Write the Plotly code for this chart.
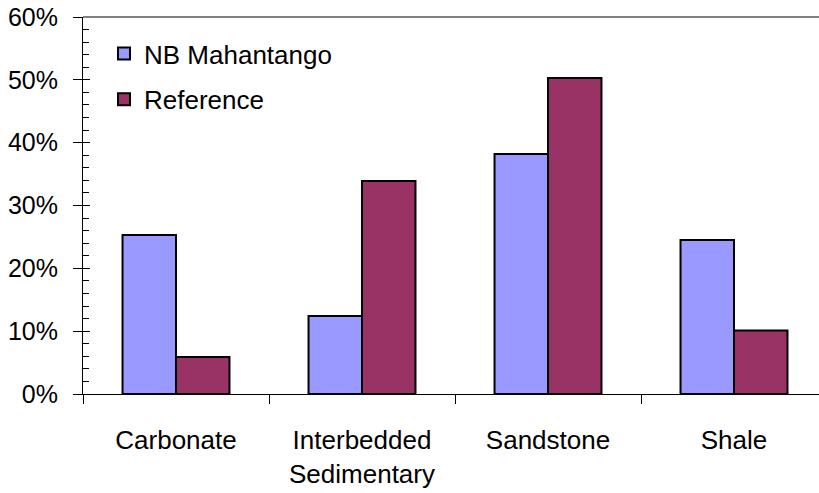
import plotly.graph_objects as go

categories = ["Carbonate", "Interbedded<br>Sedimentary", "Sandstone", "Shale"]
nb_mahantango = [0.253, 0.124, 0.382, 0.245]
reference = [0.059, 0.339, 0.503, 0.101]
series_names = ["NB Mahantango", "Reference"]
y_ticks = [0.0, 0.1, 0.2, 0.3, 0.4, 0.5, 0.6]

FONT = "Liberation Sans, Arial, sans-serif"
fs = 26

fig = go.Figure()
fig.add_trace(go.Bar(x=categories, y=nb_mahantango, name=series_names[0],
                     marker=dict(color="#9999FF", line=dict(color="black", width=2)),
                     legendgroup="a"))
fig.add_trace(go.Bar(x=categories, y=reference, name=series_names[1],
                     marker=dict(color="#993366", line=dict(color="black", width=2)),
                     legendgroup="b"))
# invisible trace to hold the inner tick axis
fig.add_trace(go.Scatter(x=[categories[0]], y=[0], yaxis="y2", mode="markers",
                         marker=dict(opacity=0), showlegend=False, hoverinfo="skip"))

W, H = 819, 493
L, T, B = 83, 17, 99
plot_w = W - L
plot_h = H - T - B
cat_w = 186
x_max = -0.5 + plot_w / cat_w

fig.update_layout(
    width=W, height=H,
    margin=dict(l=L, r=0, t=T, b=B, pad=0, autoexpand=False),
    paper_bgcolor="white", plot_bgcolor="white",
    font=dict(family=FONT, size=fs, color="black"),
    barmode="group", bargap=0.425, bargroupgap=0,
    showlegend=True,
    legend=dict(x=(104 - L) / plot_w, y=1 - 13 / plot_h, xanchor="left", yanchor="top",
                bgcolor="rgba(0,0,0,0)", font=dict(family=FONT, size=fs),
                tracegroupgap=9, traceorder="grouped", itemwidth=30),
    xaxis=dict(range=[-0.5, x_max], type="category", showgrid=False, automargin=False,
               showline=True, linecolor="black", linewidth=1,
               ticks="outside", ticklen=9, tickcolor="black", tickson="boundaries",
               ticklabelstandoff=23, tickfont=dict(family=FONT, size=fs)),
    yaxis=dict(range=[0, 0.6], tickvals=y_ticks, tickformat=".0%", showgrid=False,
               automargin=False,
               showline=True, linecolor="black", linewidth=1, zeroline=False,
               ticks="outside", ticklen=9, tickcolor="black",
               ticklabelstandoff=10, tickfont=dict(family=FONT, size=25)),
    yaxis2=dict(range=[0, 0.6], overlaying="y", side="left", tickvals=y_ticks,
                automargin=False,
                showticklabels=False, showgrid=False, zeroline=False, showline=False,
                ticks="inside", ticklen=7, tickcolor="black",
                minor=dict(dtick=0.02, ticks="inside", ticklen=6, tickcolor="black")),
    shapes=[dict(type="line", xref="paper", yref="paper", x0=0, x1=1, y0=1, y1=1,
                 line=dict(color="#808080", width=2))],
)

fig.write_html("out.html", config={"displayModeBar": False},
               post_script="document.body.style.margin='0';document.body.style.overflow='hidden';")
